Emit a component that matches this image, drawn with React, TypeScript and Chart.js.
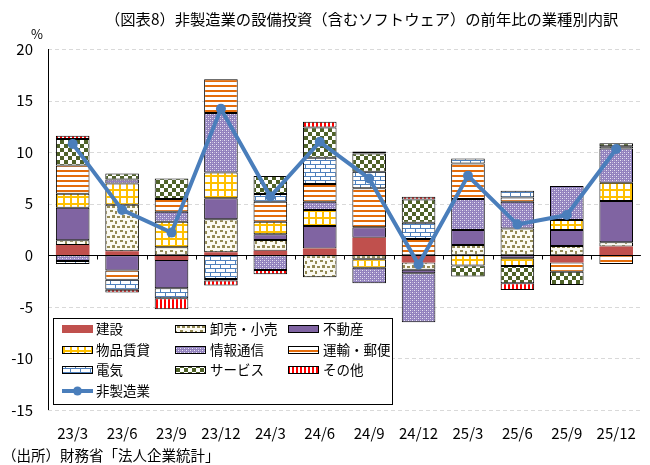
import React, { useEffect, useRef } from 'react';
import { Chart, registerables } from 'chart.js';
Chart.register(...registerables);

const categories = ['23/3', '23/6', '23/9', '23/12', '24/3', '24/6', '24/9', '24/12', '25/3', '25/6', '25/9', '25/12'];
const yTicks = [-15, -10, -5, 0, 5, 10, 15, 20];

const construction = [1.0, 0.4, -0.45, 0.3, 0.45, 0.65, 1.7, -0.7, null, null, -0.7, 0.85];
const wholesale = [0.45, 4.5, 0.77, 3.2, 1.03, -2.13, -0.39, -0.71, 1.0, 2.6, 0.9, 0.42];
const realEstate = [3.16, -1.48, -2.74, 2.03, 0.55, 2.19, 1.03, -0.32, 1.45, -0.29, 1.55, 4.0];
const leasing = [1.35, 2.06, 2.48, 2.5, 1.23, 1.55, -0.81, null, -1.0, -0.74, 0.97, 1.77];
const infoComm = [-0.55, 0.39, 0.97, 5.77, -1.42, 0.81, -1.52, -4.77, 3.0, 2.58, 3.29, 3.32];
const transport = [2.74, -0.9, 1.23, 3.26, 1.94, 1.71, 3.77, 1.58, 3.45, 0.42, -0.9, -0.84];
const electric = [-0.3, -0.97, -0.97, -2.29, 0.74, 2.55, 1.61, 1.58, 0.48, 0.65, null, 0.2];
const services = [2.58, 0.58, 2.0, -0.16, 1.74, 2.94, 1.77, 2.26, -1.06, -1.68, -1.29, 0.3];
const others = [0.32, -0.26, -1.06, -0.48, -0.42, 0.55, 0.19, 0.26, null, -0.65, null, null];
const nonManufacturing = [10.8, 4.4, 2.2, 14.2, 5.7, 11.0, 7.45, -0.9, 7.7, 3.0, 3.9, 10.3];

const seriesLabels = ['建設', '卸売・小売', '不動産', '物品賃貸', '情報通信', '運輸・郵便', '電気', 'サービス', 'その他'];
const lineLabel = '非製造業';
const titleText = '（図表8）非製造業の設備投資（含むソフトウェア）の前年比の業種別内訳';
const sourceText = '（出所）財務省「法人企業統計」';
const unitText = '%';

const FONT = '"Noto Sans CJK JP", "Noto Sans", sans-serif';

function tile(w: number, h: number, draw: (c: CanvasRenderingContext2D) => void) {
  const cv = document.createElement('canvas');
  cv.width = w;
  cv.height = h;
  const c = cv.getContext('2d')!;
  draw(c);
  return cv;
}

function makeFills(ctx: CanvasRenderingContext2D) {
  const pat = (cv: HTMLCanvasElement) => ctx.createPattern(cv, 'repeat')!;
  const wholesaleP = pat(tile(10, 10, (c) => {
    c.fillStyle = '#FBFAF2'; c.fillRect(0, 0, 10, 10);
    c.fillStyle = '#948A54';
    c.fillRect(0, 0, 3, 2); c.fillRect(5, 1, 2, 3);
    c.fillRect(2, 5, 3, 3); c.fillRect(7, 6, 3, 2);
  }));
  const infoP = pat(tile(4, 4, (c) => {
    c.fillStyle = '#9282BE'; c.fillRect(0, 0, 4, 4);
    c.fillStyle = 'rgba(255,255,255,0.8)';
    c.fillRect(0, 0, 1, 1); c.fillRect(2, 2, 1, 1);
    c.fillStyle = 'rgba(255,255,255,0.35)';
    c.fillRect(2, 0, 1, 1); c.fillRect(0, 2, 1, 1);
  }));
  const leasingP = pat(tile(7, 7, (c) => {
    c.fillStyle = '#ffffff'; c.fillRect(0, 0, 7, 7);
    c.fillStyle = '#FFC000';
    c.fillRect(0, 0, 7, 2); c.fillRect(0, 0, 2, 7);
  }));
  const transportP = pat(tile(1, 5, (c) => {
    c.fillStyle = '#ffffff'; c.fillRect(0, 0, 1, 5);
    c.fillStyle = '#E46C0A'; c.fillRect(0, 0, 1, 2);
  }));
  const electricP = pat(tile(10, 8, (c) => {
    c.fillStyle = '#ffffff'; c.fillRect(0, 0, 10, 8);
    c.fillStyle = '#4F81BD';
    c.fillRect(0, 0, 10, 1); c.fillRect(0, 4, 10, 1);
    c.fillRect(0, 0, 1, 4); c.fillRect(5, 4, 1, 4);
  }));
  const servicesP = pat(tile(8, 8, (c) => {
    c.fillStyle = '#ffffff'; c.fillRect(0, 0, 8, 8);
    c.fillStyle = '#4F6228';
    c.fillRect(0, 0, 4, 4); c.fillRect(4, 4, 4, 4);
  }));
  const othersP = pat(tile(4, 1, (c) => {
    c.fillStyle = '#ffffff'; c.fillRect(0, 0, 4, 1);
    c.fillStyle = '#FF0000'; c.fillRect(0, 0, 2, 1);
  }));
  return ['#C0504D', wholesaleP, '#8064A2', leasingP, infoP, transportP, electricP, servicesP, othersP];
}

export default function App() {
  const ref = useRef<HTMLCanvasElement | null>(null);

  useEffect(() => {
    const canvas = ref.current!;
    const ctx0 = canvas.getContext('2d')!;
    const fills = makeFills(ctx0);
    const seriesData = [construction, wholesale, realEstate, leasing, infoComm, transport, electric, services, others];
    const LINE_COLOR = '#4A7EBB';

    const barSets = seriesData.map((d, i) => ({
      type: 'bar' as const,
      label: seriesLabels[i],
      data: d,
      backgroundColor: fills[i],
      borderColor: '#000000',
      borderWidth: i === 0 ? 0 : 1,
      borderSkipped: false,
      stack: 's',
      order: 1,
      barPercentage: 0.68,
      categoryPercentage: 1.0,
    }));

    const lineSet = {
      type: 'line' as const,
      label: lineLabel,
      data: nonManufacturing,
      borderColor: LINE_COLOR,
      backgroundColor: LINE_COLOR,
      borderWidth: 4,
      pointRadius: 5,
      pointBackgroundColor: LINE_COLOR,
      pointBorderColor: LINE_COLOR,
      pointBorderWidth: 0,
      tension: 0,
      order: 0,
    };

    const decor = {
      id: 'decor',
      beforeDatasetsDraw(chart: any) {
        const { ctx, chartArea } = chart;
        const y = chart.scales.y;
        ctx.save();
        ctx.strokeStyle = '#D9D9D9';
        ctx.lineWidth = 1;
        ctx.setLineDash([4, 3]);
        yTicks.forEach((v) => {
          if (v === 0) return;
          const py = Math.round(y.getPixelForValue(v)) + 0.5;
          ctx.beginPath();
          ctx.moveTo(chartArea.left, py);
          ctx.lineTo(chartArea.right, py);
          ctx.stroke();
        });
        ctx.restore();
      },
      beforeDatasetDraw(chart: any, args: any) {
        if (args.index !== seriesData.length) return;
        const { ctx, chartArea } = chart;
        const x = chart.scales.x;
        const y = chart.scales.y;
        const py = Math.round(y.getPixelForValue(0)) + 0.5;
        ctx.save();
        ctx.strokeStyle = '#000000';
        ctx.lineWidth = 1;
        ctx.beginPath();
        ctx.moveTo(chartArea.left, py);
        ctx.lineTo(chartArea.right, py);
        for (let i = 0; i < categories.length - 1; i++) {
          const bx = Math.round((x.getPixelForValue(i) + x.getPixelForValue(i + 1)) / 2) + 0.5;
          ctx.moveTo(bx, py);
          ctx.lineTo(bx, py + 4);
        }
        ctx.stroke();
        ctx.restore();
      },
      afterDraw(chart: any) {
        const { ctx, chartArea } = chart;
        ctx.save();
        ctx.strokeStyle = '#000000';
        ctx.lineWidth = 1;
        ctx.beginPath();
        ctx.moveTo(chartArea.left + 0.5, chartArea.top);
        ctx.lineTo(chartArea.left + 0.5, chartArea.bottom);
        ctx.stroke();

        ctx.fillStyle = '#000000';
        ctx.textBaseline = 'middle';
        ctx.textAlign = 'left';
        ctx.font = `15.3px ${FONT}`;
        ctx.fillText(titleText, 105, 19);
        ctx.font = `13px ${FONT}`;
        ctx.textAlign = 'center';
        ctx.fillText(unitText, 37, 34);
        ctx.textAlign = 'left';
        ctx.font = `14.5px ${FONT}`;
        ctx.fillText(sourceText, 2, 455);

        const bx = 53, by = 318, bw = 339, bh = 86;
        ctx.fillStyle = '#ffffff';
        ctx.fillRect(bx, by, bw, bh);
        ctx.strokeStyle = '#000000';
        ctx.lineWidth = 1;
        ctx.strokeRect(bx + 0.5, by + 0.5, bw, bh);
        const colSw = [62, 175, 288];
        const colTx = [96, 210, 323];
        const rows = [329, 349.5, 370, 391];
        ctx.font = `13.5px ${FONT}`;
        seriesLabels.forEach((lab, i) => {
          const col = i % 3;
          const row = Math.floor(i / 3);
          const sx = colSw[col];
          const sy = Math.round(rows[row] - 4);
          ctx.fillStyle = fills[i] as any;
          ctx.fillRect(sx, sy, 31, 8);
          if (i !== 0) {
            ctx.strokeStyle = '#000000';
            ctx.strokeRect(sx + 0.5, sy + 0.5, 30, 7);
          }
          ctx.fillStyle = '#000000';
          ctx.fillText(lab, colTx[col], rows[row]);
        });
        ctx.strokeStyle = LINE_COLOR;
        ctx.lineWidth = 4;
        ctx.beginPath();
        ctx.moveTo(62, rows[3]);
        ctx.lineTo(93, rows[3]);
        ctx.stroke();
        ctx.fillStyle = LINE_COLOR;
        ctx.beginPath();
        ctx.arc(77.5, rows[3], 4.5, 0, Math.PI * 2);
        ctx.fill();
        ctx.fillStyle = '#000000';
        ctx.fillText(lineLabel, 96, rows[3]);
        ctx.restore();
      },
    };

    const chart = new Chart(canvas, {
      data: {
        labels: categories,
        datasets: [...barSets, lineSet] as any,
      },
      options: {
        responsive: false,
        animation: false,
        devicePixelRatio: 1,
        layout: { padding: { top: 49, right: 0, left: 0, bottom: 0 } },
        plugins: {
          legend: { display: false },
          tooltip: { enabled: false },
          title: { display: false },
        },
        scales: {
          x: {
            stacked: true,
            offset: true,
            grid: { display: false, drawTicks: false },
            border: { display: false },
            ticks: {
              color: '#000000',
              font: { family: FONT, size: 15 },
              padding: 14,
              maxRotation: 0,
              autoSkip: false,
            },
            afterFit: (s: any) => { s.height = 55; },
          },
          y: {
            stacked: true,
            min: -15,
            max: 20,
            grid: { display: false, drawTicks: false },
            border: { display: false },
            afterBuildTicks: (s: any) => { s.ticks = yTicks.map((v) => ({ value: v })); },
            ticks: {
              color: '#000000',
              font: { family: FONT, size: 15 },
              padding: 15,
              stepSize: 5,
            },
            afterFit: (s: any) => { s.width = 48; },
          },
        },
      } as any,
      plugins: [decor],
    });
    return () => chart.destroy();
  }, []);

  return (
    <div style={{ position: 'fixed', left: 0, top: 0, width: 650, height: 465, background: '#ffffff' }}>
      <canvas ref={ref} width={650} height={465} style={{ display: 'block', width: 650, height: 465 }} />
    </div>
  );
}
